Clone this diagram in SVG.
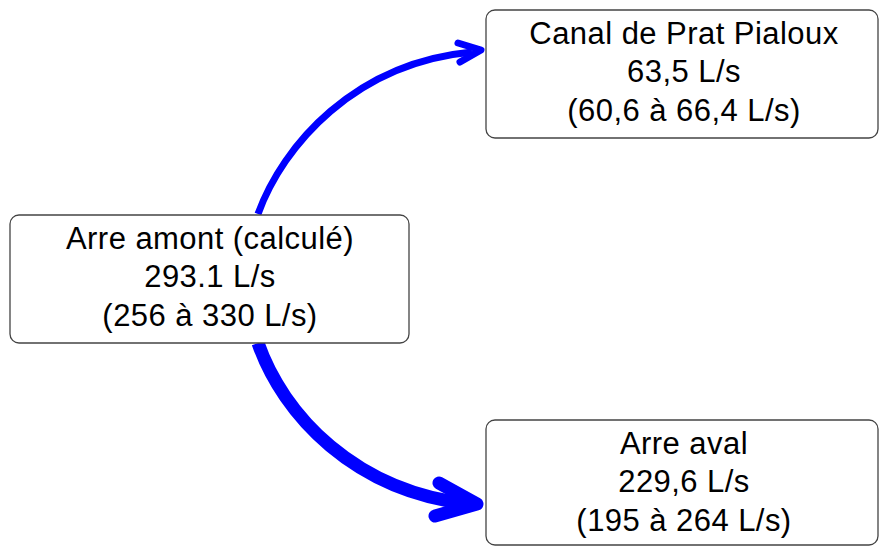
<svg xmlns="http://www.w3.org/2000/svg" width="879" height="547" viewBox="0 0 879 547">
<style>
.box{fill:#fff;stroke:#444;stroke-width:1.3}
.t{font-family:"Liberation Sans",Arial,Helvetica,sans-serif;font-size:31px;letter-spacing:0.45px;fill:#000;text-anchor:middle}
.edge{fill:none;stroke:#0000ff}
.head{fill:none;stroke:#0000ff;stroke-linecap:round;stroke-linejoin:round}
</style>
<rect width="879" height="547" fill="#fff"/>
<g id="connectors">
<path class="edge" stroke-width="7" d="M258,214 C283,145 355,63 472,52"/>
<path class="head" stroke-width="7" d="M458,43 L481,50 L460,62"/>
<path class="edge" stroke-width="13" d="M258,343 C283,415 355,492 470,504"/>
<path class="head" stroke-width="13" d="M439,483 L477,504 L435,516"/>
</g>
<g id="node-amont">
<rect class="box" x="10" y="215" width="399" height="128" rx="9"/>
<text class="t" x="210" y="248.5">Arre amont (calculé)</text>
<text class="t" x="210" y="287">293.1 L/s</text>
<text class="t" x="210" y="325.5">(256 à 330 L/s)</text>
</g>
<g id="node-canal">
<rect class="box" x="486" y="10" width="392" height="128" rx="9"/>
<text class="t" x="684" y="43.5">Canal de Prat Pialoux</text>
<text class="t" x="684" y="82">63,5 L/s</text>
<text class="t" x="684" y="120.5">(60,6 à 66,4 L/s)</text>
</g>
<g id="node-aval">
<rect class="box" x="486" y="420" width="392" height="125" rx="9"/>
<text class="t" x="684" y="453.5">Arre aval</text>
<text class="t" x="684" y="492">229,6 L/s</text>
<text class="t" x="684" y="530.5">(195 à 264 L/s)</text>
</g>
</svg>
